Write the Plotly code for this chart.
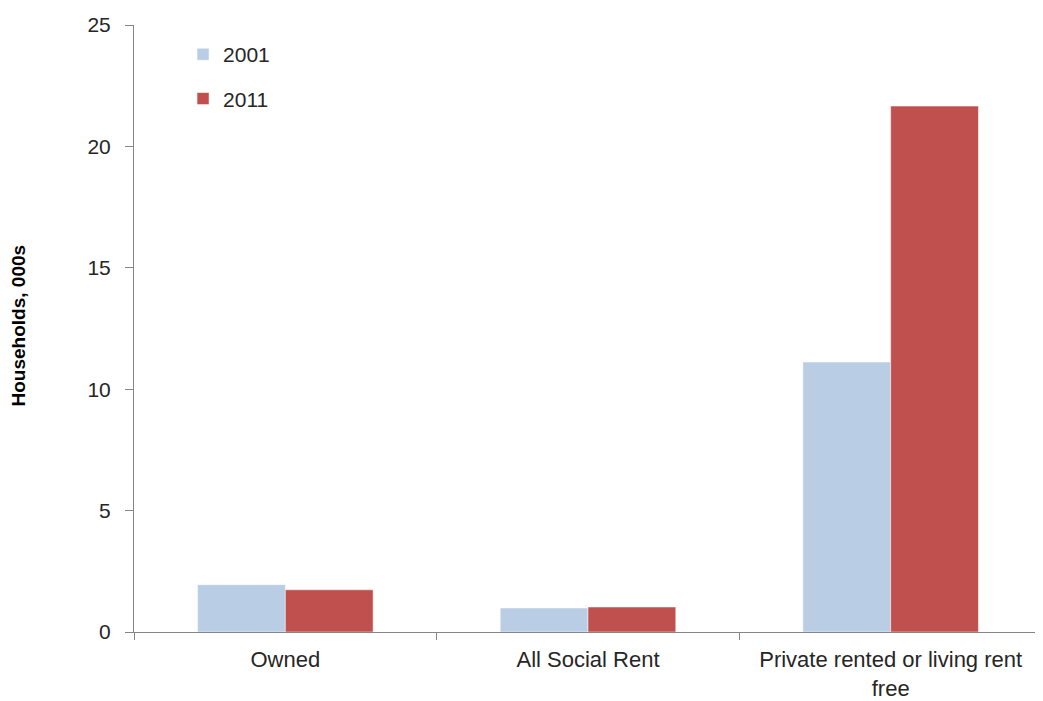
import plotly.graph_objects as go

categories = ['Owned', 'All Social Rent', 'Private rented or living rent<br>free']
values_2001 = [1.95, 0.99, 11.12]
values_2011 = [1.74, 1.03, 21.66]

AXIS_COLOR = '#868686'
TEXT_COLOR = '#262626'
FONT = 'Liberation Sans, Arial, sans-serif'

fig = go.Figure()
fig.add_trace(go.Bar(x=categories, y=values_2001, name='2001', marker={'color': '#B9CDE5'},
                     legendgroup='a'))
fig.add_trace(go.Bar(x=categories, y=values_2011, name='2011', marker={'color': '#C0504D'},
                     legendgroup='b'))

# the page keeps an 8px body margin, so the figure is offset by 8px
fig.update_layout(
    width=1035,
    height=693,
    autosize=False,
    template='plotly_white',
    plot_bgcolor='white',
    paper_bgcolor='white',
    barmode='group',
    bargap=0.42,
    bargroupgap=0,
    margin={'l': 126, 'r': 1, 't': 17, 'b': 69, 'autoexpand': False},
    font={'family': FONT, 'color': TEXT_COLOR, 'size': 21},
    showlegend=True,
    legend={
        'x': 0.054, 'y': 0.985, 'xanchor': 'left', 'yanchor': 'top',
        'traceorder': 'grouped', 'tracegroupgap': 14,
        'font': {'size': 21, 'color': TEXT_COLOR},
        'bgcolor': 'rgba(0,0,0,0)',
    },
    xaxis={
        'showline': True, 'linecolor': AXIS_COLOR, 'linewidth': 1,
        'showgrid': False, 'zeroline': False, 'automargin': False,
        'ticks': 'outside', 'tickson': 'boundaries', 'ticklen': 7, 'tickcolor': AXIS_COLOR,
        'ticklabelstandoff': 8,
        'tickfont': {'size': 22, 'color': TEXT_COLOR},
    },
    yaxis={
        'range': [0, 25], 'dtick': 5,
        'showline': True, 'linecolor': AXIS_COLOR, 'linewidth': 1,
        'showgrid': False, 'zeroline': False, 'automargin': False,
        'ticks': 'outside', 'ticklen': 8, 'tickcolor': AXIS_COLOR,
        'ticklabelstandoff': 10,
        'tickfont': {'size': 21, 'color': TEXT_COLOR},
    },
)

fig.add_annotation(
    text='<b>Households, 000s</b>', textangle=-90,
    xref='paper', yref='paper', x=-116 / 908, y=0.505,
    xanchor='center', yanchor='middle', showarrow=False,
    font={'size': 19, 'color': '#000000', 'family': FONT},
)

fig.write_html('out.html', config={'displayModeBar': False, 'responsive': False})
